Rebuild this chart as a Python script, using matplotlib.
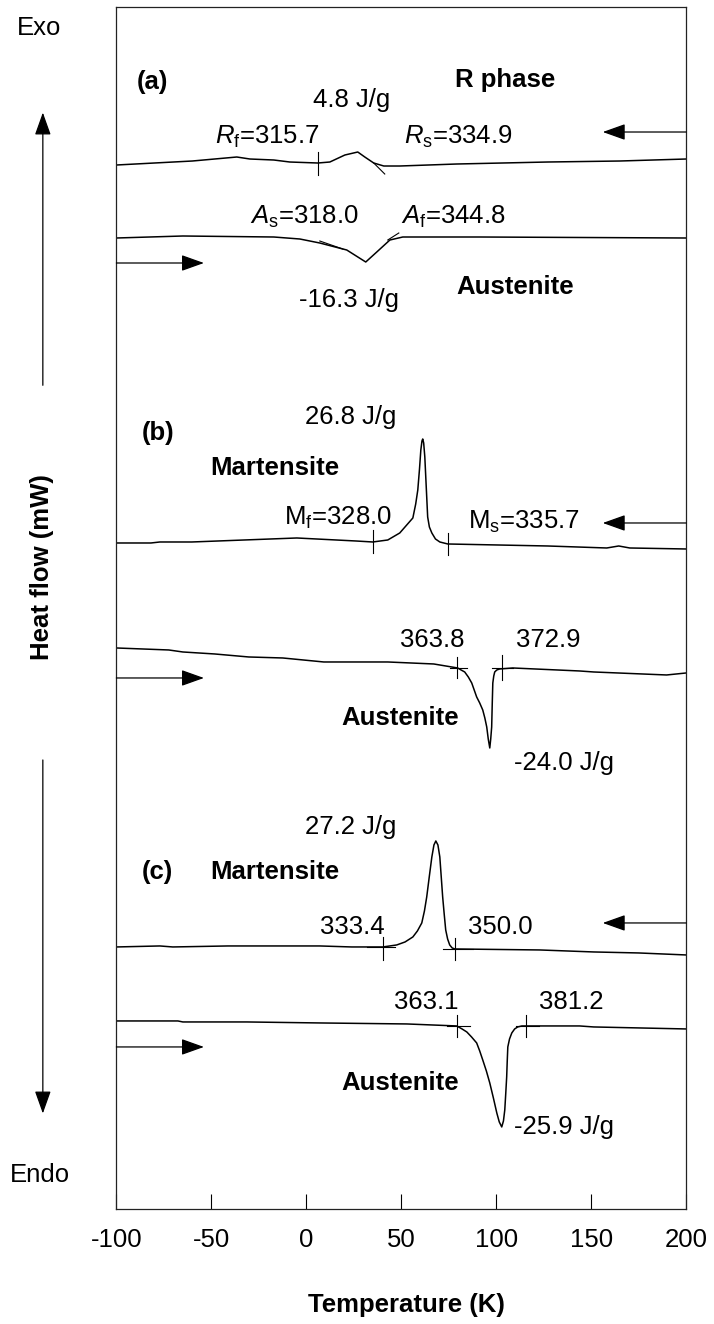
import matplotlib
matplotlib.use("Agg")
import matplotlib.pyplot as plt

plt.rcParams["font.family"] = ["Liberation Sans", "DejaVu Sans"]
plt.rcParams["mathtext.fontset"] = "custom"
plt.rcParams["mathtext.rm"] = "Liberation Sans"
plt.rcParams["mathtext.it"] = "Liberation Sans:italic"

# DSC traces (temperature, heat flow in arbitrary stacked units)
a_cool_T = [-100, -60, -36.6, -29.7, -17.1, -8.7, 6.1, 12.4, 20.3, 27.1, 30.8, 35.5, 40.8, 49.2, 79.2, 127.1, 165, 200]
a_cool_hf = [1044, 1048, 1052, 1050, 1049, 1047, 1046, 1047, 1054, 1057, 1052, 1046, 1043, 1043, 1045, 1047, 1048, 1050]

a_heat_T = [-100, -65.0, -17.1, -3.4, 7.1, 21.3, 31.3, 37.1, 44.0, 50.8, 91.3, 200]
a_heat_hf = [971, 973, 972, 970, 966, 959, 947, 957, 969, 972, 972, 971]

b_cool_T = [-100, -81.8, -77.1, -60.3, -5.0, 26.1, 35.0, 42.9, 49.2, 56.1, 57.6, 58.7, 59.6, 60.3,
            60.9, 61.3, 61.8, 62.4, 63.2, 63.9, 64.8, 66.1, 68.0, 70.3, 74.5, 127.1, 158.2, 164.5,
            170.3, 200]
b_cool_hf = [666, 666, 667, 667, 671, 668, 667, 669, 676, 691, 705, 719, 740, 759,
             768, 770, 766, 752, 720, 692, 682, 676, 670, 667, 665, 663, 661, 663,
             661, 660]

b_heat_T = [-100, -72.4, -65.0, -48.2, -30.3, -12.4, 9.2, 42.9, 67.1, 79.7, 81.5, 83.4, 85.3, 87.1,
            88.4, 89.7, 91.3, 92.9, 94.0, 95.0, 95.8, 96.6, 97.1, 97.6, 97.9, 98.2, 98.7, 99.2,
            100.3, 101.8, 108.7, 143.9, 151.3, 189.7, 200]
b_heat_hf = [561, 559, 557, 555, 552, 551, 547, 547, 545, 541, 539, 537, 532, 526,
             519, 512, 506, 499, 491, 482, 470, 461, 470, 482, 505, 526, 533, 537,
             539, 540, 541, 538, 537, 534, 536]

c_cool_T = [-100, -77.1, -70.3, -41.3, 7.1, 23.9, 40.3, 47.6, 52.0, 56.1, 58.5, 60.8, 62.2, 63.4,
            64.8, 66.1, 67.2, 68.2, 69.3, 70.3, 71.8, 72.6, 73.4, 74.4, 75.5, 76.8, 78.2, 122.9,
            151.3, 175.0, 200]
c_cool_hf = [262, 263, 262, 263, 263, 262, 262, 264, 267, 272, 278, 286, 298, 312,
             333, 352, 364, 368, 364, 352, 312, 295, 279, 270, 264, 261, 260, 259,
             257, 256, 254]

c_heat_T = [-100, -67.6, -65.0, -31.3, 7.1, 52.9, 79.2, 82.0, 84.5, 87.0, 89.7, 91.3, 92.9, 94.8,
            96.6, 98.5, 100.3, 101.6, 102.9, 103.8, 104.5, 105.0, 105.5, 105.8, 106.1, 107.0,
            108.2, 109.7, 111.3, 113.5, 116.1, 143.9, 151.3, 200]
c_heat_hf = [188, 188, 187, 187, 186, 185, 183, 180, 177, 172, 166, 158, 149, 138,
             126, 111, 96, 87, 82, 88, 99, 115, 132, 148, 162, 170,
             176, 180, 182, 183, 183, 183, 182, 180]

# onset / end markers: (T, hf_low, hf_high)
vticks = [(6.1, 1034, 1057), (35.0, 656, 679), (74.5, 654, 676),
          (79.2, 531, 552), (102.9, 529, 554), (40.3, 249, 272), (78.2, 249, 271),
          (79.2, 172, 194), (115.5, 172, 194)]
# short baseline segments at the markers: (T0, T1, hf)
hsegs = [(75.5, 84.5, 541), (97.6, 108.7, 541), (31.8, 46.6, 262), (71.8, 87.6, 260),
         (73.9, 86.1, 183), (110.3, 122.4, 183)]
# tangent lines: (T0, T1, hf0, hf1)
tangents = [(35.5, 41.3, 1046, 1035), (7.1, 19.2, 968, 960), (42.9, 48.7, 969, 976)]

xticks = [-100, -50, 0, 50, 100, 150, 200]

fig = plt.figure(figsize=(7.14, 13.24), dpi=100)
ax = fig.add_axes([0.163, 0.0869, 0.798, 0.9078])

for T, hf in [(a_cool_T, a_cool_hf), (a_heat_T, a_heat_hf), (b_cool_T, b_cool_hf),
              (b_heat_T, b_heat_hf), (c_cool_T, c_cool_hf), (c_heat_T, c_heat_hf)]:
    ax.plot(T, hf, color="black", lw=1.1)

for t, lo, hi in vticks:
    ax.plot([t, t], [lo, hi], color="black", lw=0.8)
for t0, t1, h in hsegs:
    ax.plot([t0, t1], [h, h], color="black", lw=0.8)
for t0, t1, h0, h1 in tangents:
    ax.plot([t0, t1], [h0, h1], color="black", lw=0.8)

# heating / cooling direction arrows
arrow_style = dict(arrowstyle="-|>,head_length=0.7,head_width=0.25", color="black", lw=0.9,
                   mutation_scale=20, shrinkA=0, shrinkB=0)
for h in [946, 531, 162]:
    ax.annotate("", xy=(-53.9, h), xytext=(-100, h), arrowprops=arrow_style)
for h in [1077, 686, 286]:
    ax.annotate("", xy=(156.1, h), xytext=(200, h), arrowprops=arrow_style)

fs = 18.5
txt = [
    (-89.2, 1127, "(a)", "bold"), (78.2, 1129, "R phase", "bold"),
    (3.4, 1109, "4.8 J/g", "normal"),
    (-48.2, 1072, r"$\mathit{R}_\mathrm{f}$=315.7", "normal"),
    (51.3, 1072, r"$\mathit{R}_\mathrm{s}$=334.9", "normal"),
    (-29.7, 992, r"$\mathit{A}_\mathrm{s}$=318.0", "normal"),
    (49.7, 992, r"$\mathit{A}_\mathrm{f}$=344.8", "normal"),
    (-3.9, 909, "-16.3 J/g", "normal"), (79.2, 922, "Austenite", "bold"),
    (-0.8, 792, "26.8 J/g", "normal"), (-86.6, 776, "(b)", "bold"),
    (-50.8, 741, "Martensite", "bold"),
    (-11.8, 691, r"M$_\mathrm{f}$=328.0", "normal"),
    (85.0, 687, r"M$_\mathrm{s}$=335.7", "normal"),
    (49.2, 569, "363.8", "normal"), (110.3, 569, "372.9", "normal"),
    (18.7, 491, "Austenite", "bold"), (109.2, 446, "-24.0 J/g", "normal"),
    (-0.8, 382, "27.2 J/g", "normal"), (-86.6, 337, "(c)", "bold"),
    (-50.8, 337, "Martensite", "bold"),
    (7.1, 282, "333.4", "normal"), (85.0, 282, "350.0", "normal"),
    (46.1, 207, "363.1", "normal"), (122.4, 207, "381.2", "normal"),
    (18.7, 126, "Austenite", "bold"), (109.2, 82, "-25.9 J/g", "normal"),
]
for x, y, s, w in txt:
    ax.text(x, y, s, fontsize=fs, fontweight=w, ha="left", va="center")

ax.set_xlim(-100, 200)
ax.set_ylim(0, 1202)
ax.set_xticks(xticks)
ax.set_xticklabels([str(v) for v in xticks])
ax.set_yticks([])
ax.tick_params(axis="x", direction="in", length=11, width=0.8, pad=14, labelsize=fs)
for sp in ax.spines.values():
    sp.set_linewidth(0.9)
    sp.set_color("#222222")

fig.text(0.569, 0.014, "Temperature (K)", fontsize=fs, fontweight="bold", ha="center", va="center")
fig.text(0.059, 0.572, "Heat flow (mW)", fontsize=fs, fontweight="bold", rotation=90,
         ha="center", va="center")
fig.text(0.024, 0.979, "Exo", fontsize=fs, ha="left", va="center")
fig.text(0.014, 0.1125, "Endo", fontsize=fs, ha="left", va="center")

fig_arrow = dict(arrowstyle="-|>,head_length=0.7,head_width=0.25", color="black", lw=0.9,
                 mutation_scale=20, shrinkA=0, shrinkB=0)
fig.add_artist(matplotlib.patches.FancyArrowPatch((0.060, 0.709), (0.060, 0.915),
                                                  transform=fig.transFigure, **fig_arrow))
fig.add_artist(matplotlib.patches.FancyArrowPatch((0.060, 0.426), (0.060, 0.159),
                                                  transform=fig.transFigure, **fig_arrow))

fig.savefig("out.png", dpi=100)
